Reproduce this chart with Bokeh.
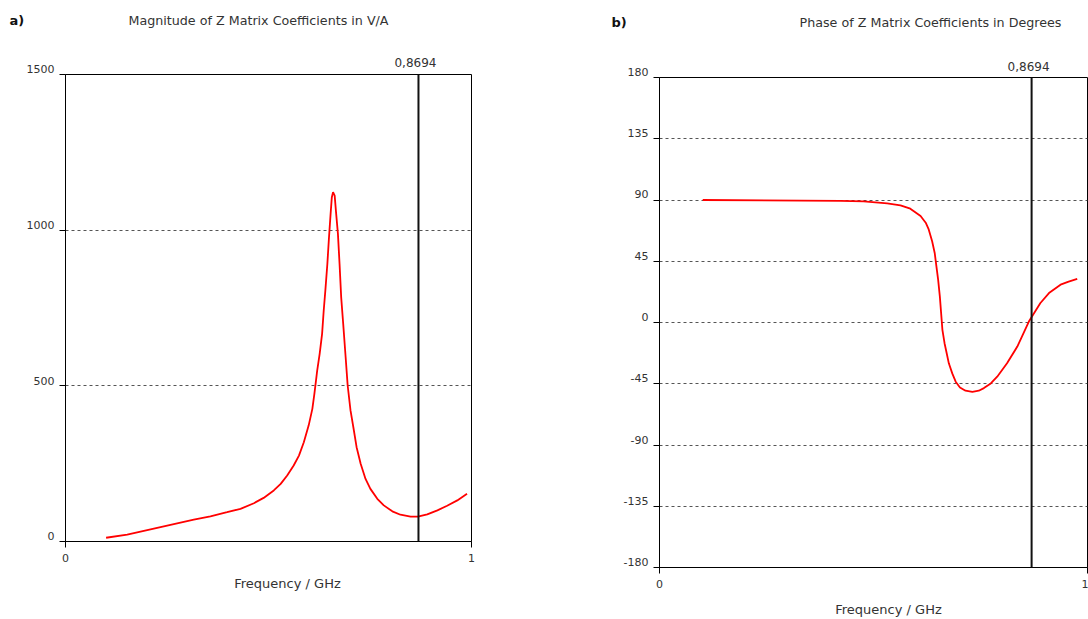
from bokeh.plotting import figure
from bokeh.models import Range1d, FixedTicker, Span, Label
from bokeh.layouts import row
from bokeh.embed import file_html
from bokeh.resources import INLINE

# ---- data ----
mag_freq = [0.100, 0.152, 0.234, 0.316, 0.357, 0.398, 0.431, 0.464, 0.488, 0.513,
            0.530, 0.546, 0.562, 0.575, 0.587, 0.599, 0.608, 0.613, 0.618, 0.620,
            0.626, 0.632, 0.636, 0.640, 0.645, 0.649, 0.653, 0.656, 0.659, 0.663,
            0.666, 0.671, 0.675, 0.679, 0.684, 0.690, 0.695, 0.702, 0.709, 0.717,
            0.727, 0.739, 0.751, 0.768, 0.784, 0.805, 0.825, 0.850, 0.868, 0.891,
            0.916, 0.940, 0.965, 0.989]
mag_vals = [12, 22, 46, 70, 81, 94, 105, 123, 140, 164,
            185, 212, 244, 276, 319, 373, 426, 474, 528, 550,
            603, 667, 742, 806, 892, 977, 1053, 1106, 1122, 1111,
            1063, 988, 892, 785, 699, 592, 501, 421, 367, 303,
            250, 201, 169, 137, 116, 97, 86, 80, 80, 87,
            100, 115, 132, 153]

ph_freq = [0.101, 0.423, 0.477, 0.532, 0.563, 0.586, 0.610, 0.622, 0.629, 0.637,
           0.643, 0.647, 0.651, 0.655, 0.658, 0.661, 0.666, 0.671, 0.676, 0.684,
           0.692, 0.702, 0.715, 0.731, 0.746, 0.758, 0.774, 0.789, 0.812, 0.836,
           0.863, 0.890, 0.910, 0.937, 0.956, 0.976]
ph_vals = [90, 89.3, 89.0, 87.5, 86.1, 83.6, 78.2, 73.3, 68.4, 59.7,
           51.1, 41.3, 31.5, 19.2, 6.9, -5.4, -15.2, -22.6, -30.0, -37.4,
           -43.5, -47.7, -50.1, -50.9, -50.1, -48.2, -44.8, -39.8, -30.0, -17.7,
           0.7, 14.3, 21.6, 27.8, 30.0, 32.0]

marker_x = 0.8694
marker_text = "0,8694"
mag_ticks = [0, 500, 1000, 1500]
ph_ticks = [-180, -135, -90, -45, 0, 45, 90, 135, 180]
x_ticks = [0, 1]
x_label = "Frequency / GHz"

FONT = "DejaVu Sans"
TXT = "#333333"
TICK_FS = 11
LINE_EM = 1.18  # approx font height / font size used for line pitch


def make_fig(x0, width, height, left, top, fw, fh, ymin, ymax, yticks, xdata, ydata,
             panel, title, panel_px, title_px, marker_py, xlab_px):
    bottom = height - top - fh
    right = width - left - fw
    p = figure(width=width, height=height, output_backend="svg", toolbar_location=None,
               x_range=Range1d(0, 1), y_range=Range1d(ymin, ymax),
               min_border_left=left, min_border_right=right,
               min_border_top=top, min_border_bottom=bottom)
    if "frame_align" in p.properties():
        p.frame_align = False
    p.outline_line_color = "black"
    p.outline_line_alpha = 1
    p.xgrid.visible = False
    p.ygrid.ticker = FixedTicker(ticks=yticks[1:-1])
    p.ygrid.grid_line_color = "#555555"
    p.ygrid.grid_line_dash = "3 3"
    for ax in (p.xaxis[0], p.yaxis[0]):
        ax.axis_line_color = "black"
        ax.major_tick_line_color = "black"
        ax.major_tick_out = 6
        ax.major_tick_in = 0
        ax.minor_tick_line_color = None
        ax.major_label_text_font = FONT
        ax.major_label_text_font_size = "11px"
        ax.major_label_text_color = TXT
    p.xaxis.ticker = FixedTicker(ticks=x_ticks)
    p.xaxis.major_label_standoff = 6
    p.yaxis.ticker = FixedTicker(ticks=yticks)
    p.yaxis.major_label_standoff = 0
    p.yaxis.major_label_overrides = {t: "" for t in yticks}

    p.line(xdata, ydata, line_color="#ff0000", line_width=1.8)
    p.add_layout(Span(location=marker_x, dimension="height", line_color="#111111",
                      line_width=2))

    # reference page pixel -> data helpers for text placement
    def dx(px):
        return (px - x0 - left) / fw

    def dy(py):
        return ymax - (py - top) * (ymax - ymin) / fh

    # y tick labels: sit just above each tick, right-aligned left of the axis
    pitch = fh / (len(yticks) - 1)
    p.add_layout(Label(x=0, y=yticks[0], x_offset=-11, y_offset=-2,
                       text="\n".join(str(t) for t in reversed(yticks)),
                       text_align="right", text_baseline="bottom",
                       text_line_height=pitch / (TICK_FS * LINE_EM),
                       text_font=FONT, text_font_size=f"{TICK_FS}px", text_color=TXT),
                 "left")

    p.add_layout(Label(x=dx(panel_px[0]), y=dy(panel_px[1]), text=panel,
                       text_align="left", text_baseline="middle",
                       text_font=FONT, text_font_size="13px", text_font_style="bold",
                       text_color="#111111"), "above")
    p.add_layout(Label(x=dx(title_px[0]), y=dy(title_px[1]), text=title,
                       text_align="center", text_baseline="middle",
                       text_font=FONT, text_font_size="12.7px", text_color=TXT), "above")
    p.add_layout(Label(x=marker_x, y=dy(marker_py), text=marker_text, x_offset=-3,
                       text_align="center", text_baseline="middle",
                       text_font=FONT, text_font_size="12px", text_color=TXT), "above")
    p.add_layout(Label(x=dx(xlab_px[0]), y=dy(xlab_px[1]), text=x_label,
                       text_align="center", text_baseline="middle",
                       text_font=FONT, text_font_size="13px", text_color=TXT), "below")
    return p


p1 = make_fig(0, 600, 591, 65, 74, 406, 467, 0, 1500, mag_ticks, mag_freq, mag_vals,
              "a)", "Magnitude of Z Matrix Coefficients in V/A",
              (9, 20), (258, 20), 62, (287, 583))
p2 = make_fig(600, 488, 617, 59, 77, 428, 490, -180, 180, ph_ticks, ph_freq, ph_vals,
              "b)", "Phase of Z Matrix Coefficients in Degrees",
              (611, 22), (930, 22), 66, (888, 609))

layout = row(p1, p2)
open("out.html", "w").write(file_html(layout, INLINE))
